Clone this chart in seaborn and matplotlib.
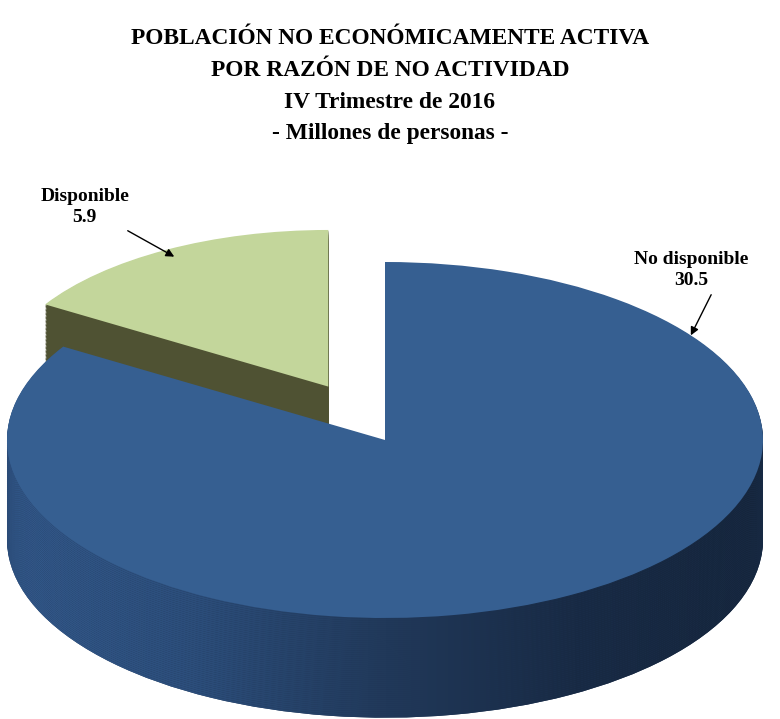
import numpy as np
import matplotlib
matplotlib.use("Agg")
import matplotlib.pyplot as plt
from matplotlib.colors import LinearSegmentedColormap
import seaborn as sns

# datos
categorias = ["No disponible", "Disponible"]
millones = [30.5, 5.9]
etiquetas = ["No disponible\n30.5", "Disponible\n5.9"]
titulo = ["POBLACIÓN NO ECONÓMICAMENTE ACTIVA",
          "POR RAZÓN DE NO ACTIVIDAD",
          "IV Trimestre de 2016",
          "- Millones de personas -"]

sns.set_theme(style="white")
fuente = ['Liberation Serif', 'DejaVu Serif']
plt.rcParams['font.family'] = fuente
plt.rcParams['text.color'] = 'black'

colores_top = ["#365f91", "#c3d69b"]
color_lado_verde = "#4f5233"
degradado = LinearSegmentedColormap.from_list(
    "lado", ["#33598b", "#2c4e7b", "#21395a", "#182a44", "#15253b"])

# la rebanada "Disponible" va separada (arriba-izquierda) y algo mas chica
centros = [(0, 0), (-0.15, 0.30)]
radios = [1.0, 0.88]
profs = [0.56, 0.38]
capas = 50

W, H = 780, 719
fig = plt.figure(figsize=(W / 100, H / 100), dpi=100)
rx, ry = 378, 178      # pixeles por unidad
cx, cy = 385, 440      # centro del pastel (pixeles desde arriba)
xl = (-1.02, 1.02)
yl = (-1.57, 1.5)
ax = fig.add_axes([(cx + xl[0] * rx) / W,
                   (H - (cy - yl[0] * ry)) / H,
                   (xl[1] - xl[0]) * rx / W,
                   (yl[1] - yl[0]) * ry / H])

z = [1.0]


def capa(dz, idx, color):
    c = centros[idx]
    w, _ = ax.pie(millones, startangle=90, counterclock=False,
                  center=(c[0], c[1] - dz), radius=radios[idx],
                  colors=[color, color], wedgeprops=dict(linewidth=0))
    for j, wj in enumerate(w):
        if j != idx:
            wj.remove()
    w[idx].set_zorder(z[0])
    z[0] += 1
    return w[idx]


grad = np.linspace(0, 1, 256).reshape(1, -1)

# rebanada verde (atras)
for dz in np.linspace(profs[1], 0.005, capas):
    capa(dz, 1, color_lado_verde)
capa(0, 1, colores_top[1])

# rebanada azul con degradado en el costado
for dz in np.linspace(profs[0], 0.005, capas):
    w = capa(dz, 0, "#1f3556")
    im = ax.imshow(grad, extent=(-1.0, 1.0, -2, 1.2), cmap=degradado,
                   aspect='auto', zorder=w.get_zorder() + 0.5)
    im.set_clip_path(w)
capa(0, 0, colores_top[0])

ax.set_xlim(xl)
ax.set_ylim(yl)
ax.set_aspect('auto')
ax.axis('off')

# etiquetas con flecha
mid_v = np.deg2rad(90 + 0.5 * 360 * millones[1] / sum(millones))
punta_v = np.array(centros[1]) + 0.95 * radios[1] * np.array([np.cos(mid_v), np.sin(mid_v)])
ax.annotate(etiquetas[1], xy=punta_v, xytext=(-0.794, 1.31),
            ha='center', va='center', fontsize=14, fontweight='bold',
            family=fuente, linespacing=1.35, color='black',
            arrowprops=dict(arrowstyle='-|>', color='black', lw=1,
                            mutation_scale=12, shrinkB=0), zorder=500)

ang_a = np.deg2rad(36)
punta_a = 1.0 * np.array([np.cos(ang_a), np.sin(ang_a)])
ax.annotate(etiquetas[0], xy=punta_a, xytext=(0.81, 0.955),
            ha='center', va='center', fontsize=14, fontweight='bold',
            family=fuente, linespacing=1.3, color='black',
            arrowprops=dict(arrowstyle='-|>', color='black', lw=1,
                            mutation_scale=12, shrinkB=0, relpos=(0.7, 0)),
            zorder=500)

for t, y in zip(titulo, [38, 70, 102, 134]):
    fig.text(0.5, 1 - y / H, t, ha='center', va='center', family=fuente,
             fontsize=16.8, fontweight='bold', color='black')

fig.savefig("out.png", dpi=100)
